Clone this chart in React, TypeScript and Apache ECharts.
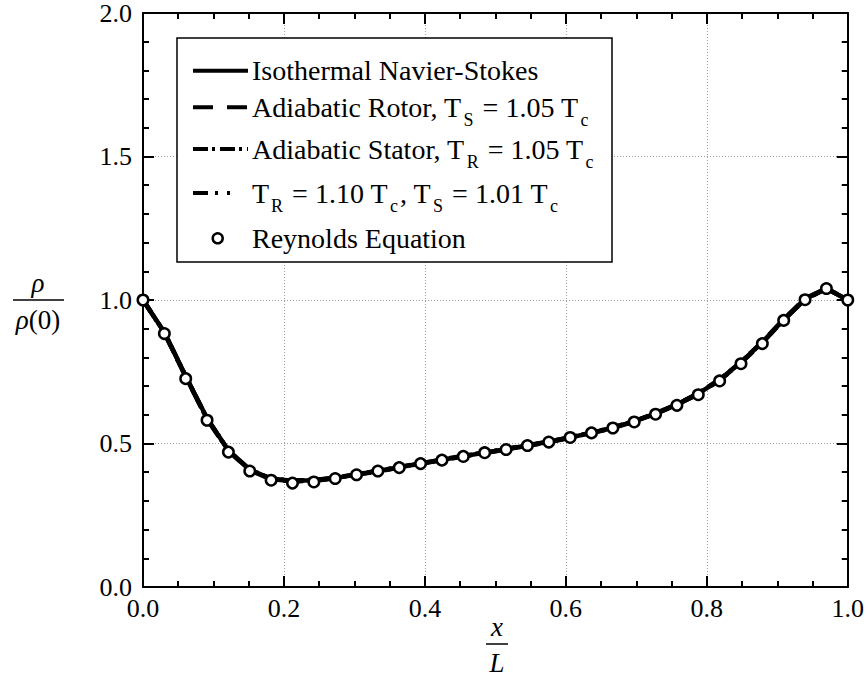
import React, { useEffect, useRef } from "react";
import * as echarts from "echarts";

// x / L positions of the computed stations
const xPositions = [
  0, 0.0303, 0.0606, 0.0909, 0.1212, 0.1515, 0.1818, 0.2121, 0.2424, 0.2727,
  0.303, 0.3333, 0.3636, 0.3939, 0.4242, 0.4545, 0.4848, 0.5152, 0.5455, 0.5758,
  0.6061, 0.6364, 0.6667, 0.697, 0.7273, 0.7576, 0.7879, 0.8182, 0.8485, 0.8788,
  0.9091, 0.9394, 0.9697, 1.0,
];

const isothermalNS = [
  1.0, 0.888, 0.735, 0.588, 0.476, 0.409, 0.377, 0.37, 0.372, 0.38,
  0.392, 0.404, 0.417, 0.43, 0.443, 0.456, 0.468, 0.48, 0.493, 0.506,
  0.521, 0.537, 0.555, 0.577, 0.604, 0.636, 0.674, 0.722, 0.783, 0.853,
  0.932, 1.004, 1.04, 1.0,
];

const adiabaticRotor = [
  1.0, 0.886, 0.732, 0.585, 0.474, 0.407, 0.375, 0.368, 0.37, 0.379,
  0.391, 0.403, 0.416, 0.429, 0.442, 0.455, 0.467, 0.479, 0.492, 0.505,
  0.52, 0.536, 0.554, 0.576, 0.603, 0.635, 0.672, 0.72, 0.781, 0.851,
  0.93, 1.002, 1.039, 1.0,
];

const adiabaticStator = [
  1.0, 0.887, 0.734, 0.587, 0.476, 0.409, 0.378, 0.371, 0.373, 0.381,
  0.393, 0.405, 0.418, 0.431, 0.444, 0.457, 0.469, 0.481, 0.494, 0.507,
  0.522, 0.538, 0.556, 0.578, 0.605, 0.637, 0.675, 0.723, 0.784, 0.854,
  0.933, 1.005, 1.041, 1.0,
];

const mixedWalls = [
  1.0, 0.886, 0.733, 0.586, 0.475, 0.408, 0.376, 0.369, 0.371, 0.38,
  0.392, 0.404, 0.417, 0.43, 0.443, 0.456, 0.468, 0.48, 0.493, 0.506,
  0.521, 0.537, 0.555, 0.577, 0.604, 0.636, 0.673, 0.721, 0.782, 0.852,
  0.931, 1.003, 1.04, 1.0,
];

const reynoldsEq = [
  1.0, 0.883, 0.726, 0.581, 0.47, 0.404, 0.372, 0.362, 0.366, 0.378,
  0.391, 0.404, 0.416, 0.43, 0.442, 0.455, 0.468, 0.479, 0.493, 0.505,
  0.521, 0.537, 0.554, 0.575, 0.602, 0.633, 0.67, 0.718, 0.778, 0.848,
  0.929, 1.001, 1.04, 1.0,
];

const legendTexts = [
  "Isothermal Navier-Stokes",
  "Adiabatic Rotor, T{s|S} = 1.05 T{s|c}",
  "Adiabatic Stator, T{s|R} = 1.05 T{s|c}",
  "T{s|R} = 1.10 T{s|c}, T{s|S} = 1.01 T{s|c}",
  "Reynolds Equation",
];

const FONT = '"Liberation Serif", "Times New Roman", serif';

export default function App() {
  const ref = useRef<HTMLDivElement>(null);
  useEffect(() => {
    document.body.style.margin = "0";
    if (!ref.current) return;
    const chart = echarts.init(ref.current, null, { renderer: "svg" });

    const pairs = (arr: number[]) => xPositions.map((x, i) => [x, arr[i]]);
    const axisCommon = (interval: number, minorSplit: number) => ({
      type: "value",
      min: 0,
      interval,
      axisLine: { show: true, onZero: false, lineStyle: { color: "#000", width: 2 } },
      axisTick: { show: true, inside: true, length: 11, lineStyle: { color: "#000", width: 2 } },
      minorTick: { show: true, splitNumber: minorSplit, length: 6, lineStyle: { color: "#000", width: 2 } },
    });

    const rowY = [70.7, 107.3, 149, 193, 238.3];
    const lx0 = 193;
    const lx1 = 248;
    const legendLine = (y: number, dash: number[] | null) => ({
      type: "line",
      z: 101,
      shape: { x1: lx0, y1: y, x2: lx1, y2: y },
      style: { stroke: "#000", lineWidth: 4, lineDash: dash || undefined, lineCap: "butt" },
    });
    const subRich = {
      s: { font: `18px ${FONT}`, padding: [25, 2, 0, 2] },
    };

    const option: any = {
      animation: false,
      backgroundColor: "#fff",
      grid: { left: 143, top: 13, width: 706, height: 574, containLabel: false },
      xAxis: [
        {
          ...axisCommon(0.2, 4),
          max: 1,
          position: "bottom",
          axisLabel: {
            show: true,
            margin: 8,
            color: "#000",
            fontFamily: FONT,
            fontSize: 26,
            formatter: (v: number) => v.toFixed(1),
          },
          splitLine: { show: true, lineStyle: { color: "#999", width: 1, type: [1, 2] } },
        },
        {
          ...axisCommon(0.2, 4),
          max: 1,
          position: "top",
          axisLabel: { show: false },
          splitLine: { show: false },
        },
      ],
      yAxis: [
        {
          ...axisCommon(0.5, 5),
          max: 2,
          position: "left",
          axisLabel: {
            show: true,
            margin: 11,
            color: "#000",
            fontFamily: FONT,
            fontSize: 26,
            formatter: (v: number) => v.toFixed(1),
          },
          splitLine: { show: true, lineStyle: { color: "#999", width: 1, type: [1, 2] } },
        },
        {
          ...axisCommon(0.5, 5),
          max: 2,
          position: "right",
          axisLabel: { show: false },
          splitLine: { show: false },
        },
      ],
      series: [
        {
          name: "Isothermal Navier-Stokes",
          type: "line",
          data: pairs(isothermalNS),
          showSymbol: false,
          symbol: "none",
          lineStyle: { color: "#000", width: 4.5, type: "solid" },
        },
        {
          name: "Adiabatic Rotor",
          type: "line",
          data: pairs(adiabaticRotor),
          symbol: "none",
          lineStyle: { color: "#000", width: 4.5, type: [20, 14] },
        },
        {
          name: "Adiabatic Stator",
          type: "line",
          data: pairs(adiabaticStator),
          symbol: "none",
          lineStyle: { color: "#000", width: 4.5, type: [15, 4, 3, 5] },
        },
        {
          name: "TR 1.10 TS 1.01",
          type: "line",
          data: pairs(mixedWalls),
          symbol: "none",
          lineStyle: { color: "#000", width: 4.5, type: [15, 7, 3, 9, 3, 9] },
        },
        {
          name: "Reynolds Equation",
          type: "scatter",
          data: pairs(reynoldsEq),
          symbol: "circle",
          symbolSize: 10.5,
          itemStyle: { color: "#fff", borderColor: "#000", borderWidth: 2.5, opacity: 1 },
          z: 5,
        },
      ],
      graphic: [
        {
          type: "rect",
          z: 100,
          shape: { x: 177, y: 38, width: 435, height: 224 },
          style: { fill: "#fff", stroke: "#000", lineWidth: 1.5 },
        },
        legendLine(rowY[0], null),
        legendLine(rowY[1], [20, 14]),
        legendLine(rowY[2], [15, 4, 3, 5]),
        legendLine(rowY[3], [15, 7, 3, 9, 3, 30]),
        {
          type: "circle",
          z: 101,
          shape: { cx: 217.7, cy: rowY[4], r: 5 },
          style: { fill: "#fff", stroke: "#000", lineWidth: 2.5 },
        },
        ...legendTexts.map((t, i) => ({
          type: "text",
          z: 101,
          x: 252,
          y: rowY[i],
          style: {
            text: t,
            font: `28px ${FONT}`,
            fill: "#000",
            align: "left",
            verticalAlign: "middle",
            textAlign: "left",
            textVerticalAlign: "middle",
            rich: subRich,
          },
        })),
        // y-axis name: rho / rho(0)
        {
          type: "text",
          x: 38,
          y: 283,
          style: {
            text: "ρ",
            font: `italic 27px ${FONT}`,
            fill: "#000",
            align: "center",
            verticalAlign: "middle",
            textAlign: "center",
            textVerticalAlign: "middle",
          },
        },
        {
          type: "line",
          shape: { x1: 13, y1: 300, x2: 64, y2: 300 },
          style: { stroke: "#000", lineWidth: 1.5 },
        },
        {
          type: "text",
          x: 38,
          y: 320,
          style: {
            text: "{i|ρ}(0)",
            font: `27px ${FONT}`,
            fill: "#000",
            align: "center",
            verticalAlign: "middle",
            textAlign: "center",
            textVerticalAlign: "middle",
            rich: { i: { font: `italic 27px ${FONT}` } },
          },
        },
        // x-axis name: x / L
        {
          type: "text",
          x: 497,
          y: 627,
          style: {
            text: "x",
            font: `italic 27px ${FONT}`,
            fill: "#000",
            align: "center",
            verticalAlign: "middle",
            textAlign: "center",
            textVerticalAlign: "middle",
          },
        },
        {
          type: "line",
          shape: { x1: 486, y1: 644, x2: 508, y2: 644 },
          style: { stroke: "#000", lineWidth: 1.5 },
        },
        {
          type: "text",
          x: 497,
          y: 663,
          style: {
            text: "L",
            font: `italic 27px ${FONT}`,
            fill: "#000",
            align: "center",
            verticalAlign: "middle",
            textAlign: "center",
            textVerticalAlign: "middle",
          },
        },
      ],
    };

    chart.setOption(option);
    return () => chart.dispose();
  }, []);

  return <div ref={ref} style={{ width: 867, height: 678 }} />;
}
